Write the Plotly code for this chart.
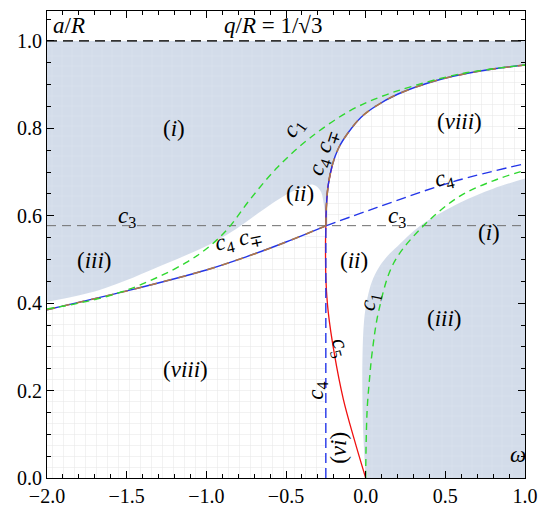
import plotly.graph_objects as go

# ---------------- data ----------------
# c4 / c-minus-plus lower-left branch
low_x = [-2.0, -1.5, -1.0, -0.75, -0.5, -0.25]
low_y = [0.385, 0.428, 0.476, 0.506, 0.54, 0.577]
# c4 / c-minus-plus upper branch
up_x = [-0.25, -0.246, -0.235, -0.21, -0.17, -0.11, -0.03, 0.06, 0.2, 0.45, 0.7, 1.0]
up_y = [0.577, 0.625, 0.67, 0.715, 0.755, 0.79, 0.825, 0.85, 0.878, 0.91, 0.93, 0.945]
# c4 straight continuation to the right
c4r_x = [-0.25, 0.072, 0.55, 1.0]
c4r_y = [0.577, 0.619, 0.678, 0.719]
# c4 vertical part
c4v_x = [-0.25, -0.25]
c4v_y = [0.0, 0.577]
# c5 (red)
c5_x = [0.0, -0.073, -0.14, -0.197, -0.235, -0.249, -0.252, -0.25, -0.246, -0.235, -0.21]
c5_y = [0.0, 0.09, 0.18, 0.285, 0.38, 0.45, 0.53, 0.577, 0.625, 0.67, 0.715]
# c1 (green) upper branch
c1u_x = [-2.0, -1.8, -1.6, -1.4, -1.131, -0.98, -0.861, -0.72, -0.55, -0.35, -0.1, 0.1, 0.3, 0.6, 1.0]
c1u_y = [0.387, 0.40, 0.418, 0.444, 0.492, 0.53, 0.572, 0.64, 0.712, 0.778, 0.84, 0.873, 0.897, 0.925, 0.945]
# c1 (green) lower branch
c1l_x = [0.0, 0.003, 0.01, 0.025, 0.041, 0.083, 0.176, 0.363, 0.591, 0.8, 1.0]
c1l_y = [0.0, 0.08, 0.161, 0.23, 0.288, 0.384, 0.492, 0.577, 0.645, 0.68, 0.704]
# lower boundary of the upper-left shaded region (continues along the upper branch)
sh1_x = [-2.0, -1.67, -1.255, -0.95, -0.8, -0.65, -0.5, -0.4, -0.33, -0.285, -0.262, -0.252]
sh1_y = [0.403, 0.43, 0.49, 0.54, 0.573, 0.612, 0.648, 0.665, 0.671, 0.658, 0.625, 0.59]
# boundary of the lower-right shaded region
sh2_x = [0.0, -0.015, -0.021, -0.02, -0.01, 0.01, 0.04, 0.08, 0.13, 0.2, 0.342, 0.591, 0.8, 1.0]
sh2_y = [0.0, 0.1, 0.2, 0.28, 0.36, 0.41, 0.45, 0.48, 0.505, 0.53, 0.577, 0.63, 0.662, 0.685]

c3_level = 0.57735
top_level = 1.0

x_ticks = [-2.0, -1.5, -1.0, -0.5, 0.0, 0.5, 1.0]
y_ticks = [0.0, 0.2, 0.4, 0.6, 0.8, 1.0]

# labels: (text, x, y, angle)
labels = [
    ("<i>a</i>/<i>R</i>", -1.86, 1.035, 0),
    ("<i>q</i>/<i>R</i> = 1/√3", -0.58, 1.035, 0),
    ("(<i>i</i>)", -1.2, 0.80, 0),
    ("(<i>viii</i>)", 0.589, 0.816, 0),
    ("(<i>ii</i>)", -0.413, 0.651, 0),
    ("(<i>iii</i>)", -1.70, 0.497, 0),
    ("<i>c</i><sub>3</sub>", -1.496, 0.598, 0),
    ("<i>c</i><sub>3</sub>", 0.197, 0.598, 0),
    ("<i>c</i><sub>4</sub>", 0.489, 0.685, -12),
    ("(<i>i</i>)", 0.775, 0.562, 0),
    ("(<i>ii</i>)", -0.071, 0.497, 0),
    ("<i>c</i><sub>1</sub>", 0.029, 0.404, -78),
    ("(<i>iii</i>)", 0.495, 0.366, 0),
    ("<i>c</i><sub>5</sub>", -0.164, 0.299, 75),
    ("(<i>viii</i>)", -1.129, 0.248, 0),
    ("<i>c</i><sub>4</sub>", -0.307, 0.199, -90),
    ("(<i>vi</i>)", -0.17, 0.068, -90),
    ("<i>ω</i>", 0.956, 0.054, 0),
    ("<i>c</i><sub>1</sub>", -0.45, 0.80, -55),
    ("<i>c</i><sub>4</sub> <i>c</i><sub>∓</sub>", -0.262, 0.745, -72),
    ("<i>c</i><sub>4</sub> <i>c</i><sub>∓</sub>", -0.80, 0.545, -12),
]

# ---------------- styles ----------------
SHADE = "#d3dcea"
SHADE_FG = "#dbe2ed"
DOT_FG = "#e8e8e8"
BLUE = "#2335e8"
BROWN = "#b07845"
GREEN = "#2fd82f"
RED = "#f01010"
FONT = "Liberation Serif"

fig = go.Figure()


def base(xs, ys, shape="linear"):
    fig.add_trace(go.Scatter(x=xs, y=ys, mode="lines", line=dict(width=0, color="rgba(0,0,0,0)"),
                             line_shape=shape, hoverinfo="skip", showlegend=False))


def fill_to_prev(xs, ys, color, fg, size):
    fig.add_trace(go.Scatter(x=xs, y=ys, mode="lines", fill="tonexty", line_shape="spline",
                             line=dict(width=0, color="rgba(0,0,0,0)"),
                             fillcolor=color,
                             fillpattern=dict(shape="+", fgcolor=fg, bgcolor=color,
                                              size=size, solidity=0.1, fillmode="replace"),
                             hoverinfo="skip", showlegend=False))


# upper-left shaded region
base([-2.0, 1.0], [top_level, top_level])
fill_to_prev(sh1_x + up_x, sh1_y + up_y, SHADE, SHADE_FG, 10)
# lower-right shaded region
base([0.0, 1.0], [0.0, 0.0])
fill_to_prev(sh2_x, sh2_y, SHADE, SHADE_FG, 10)
# dotted (viii) regions
base([-2.0, -0.25], [0.0, 0.0])
fill_to_prev(low_x, low_y, "white", DOT_FG, 11)
base(c4r_x, c4r_y, "spline")
fill_to_prev(up_x, up_y, "white", DOT_FG, 11)

# horizontal reference lines
fig.add_trace(go.Scatter(x=[-2.0, 1.0], y=[c3_level, c3_level], mode="lines",
                         line=dict(color="#6e6e6e", width=1, dash="9px,6px"),
                         hoverinfo="skip", showlegend=False))
fig.add_trace(go.Scatter(x=[-2.0, 1.0], y=[top_level, top_level], mode="lines",
                         line=dict(color="#333333", width=1.8, dash="10px,6px"),
                         hoverinfo="skip", showlegend=False))

# red c5
fig.add_trace(go.Scatter(x=c5_x, y=c5_y, mode="lines", line_shape="spline",
                         line=dict(color=RED, width=1.3),
                         hoverinfo="skip", showlegend=False))
# blue c4
for xs, ys in [(low_x, low_y), (up_x, up_y)]:
    fig.add_trace(go.Scatter(x=xs, y=ys, mode="lines", line_shape="spline",
                             line=dict(color=BLUE, width=1.4),
                             hoverinfo="skip", showlegend=False))
for xs, ys in [(c4r_x, c4r_y), (c4v_x, c4v_y)]:
    fig.add_trace(go.Scatter(x=xs, y=ys, mode="lines", line_shape="spline",
                             line=dict(color=BLUE, width=1.4, dash="10px,5px"),
                             hoverinfo="skip", showlegend=False))
# brown c-minus-plus on top
for xs, ys in [(low_x, low_y), (up_x, up_y)]:
    fig.add_trace(go.Scatter(x=xs, y=ys, mode="lines", line_shape="spline",
                             line=dict(color=BROWN, width=1.6, dash="8px,7px"),
                             hoverinfo="skip", showlegend=False))
# green c1
for xs, ys in [(c1u_x, c1u_y), (c1l_x, c1l_y)]:
    fig.add_trace(go.Scatter(x=xs, y=ys, mode="lines", line_shape="spline",
                             line=dict(color=GREEN, width=1.4, dash="7px,5px"),
                             hoverinfo="skip", showlegend=False))

for text, x, y, ang in labels:
    fig.add_annotation(x=x, y=y, text=text, showarrow=False, textangle=ang,
                       font=dict(family=FONT, size=23, color="black"),
                       xanchor="center", yanchor="middle")

axis_common = dict(showgrid=False, zeroline=False, showline=True, linecolor="black",
                   linewidth=1.2, mirror="allticks", ticks="inside", ticklen=7,
                   tickwidth=1, tickcolor="black",
                   tickfont=dict(family=FONT, size=20, color="black"))
fig.update_xaxes(range=[-2.0, 1.0], tickvals=x_ticks,
                 ticktext=[f"{v:.1f}".replace("-", "−") for v in x_ticks],
                 minor=dict(dtick=0.1, ticks="inside", ticklen=4, tickcolor="black"),
                 **axis_common)
fig.update_yaxes(range=[0.0, 1.0685], tickvals=y_ticks,
                 ticktext=[f"{v:.1f}" for v in y_ticks],
                 minor=dict(dtick=0.05, ticks="inside", ticklen=4, tickcolor="black"),
                 **axis_common)

fig.update_layout(width=548, height=517, margin=dict(l=47, r=19, t=10, b=28),
                  plot_bgcolor="white", paper_bgcolor="white", showlegend=False)

fig.write_html("out.html")
